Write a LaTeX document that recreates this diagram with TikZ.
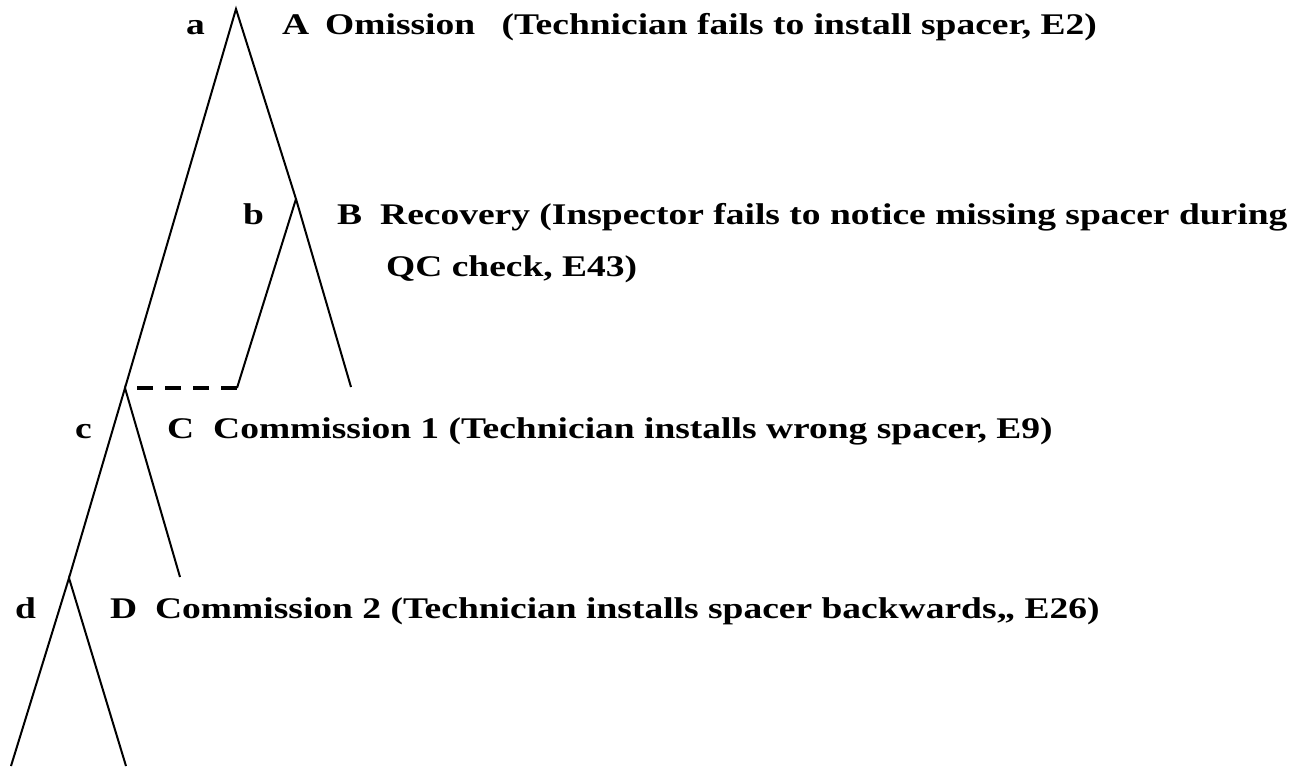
\documentclass[tikz,border=0pt]{standalone}
\usepackage{fontspec}
\setmainfont{Liberation Serif}[FakeStretch=1.25]
\begin{document}
\begin{tikzpicture}[x=1pt,y=-1pt,
  branch/.style={line width=2pt},
  link/.style={line width=4pt,dash pattern=on 16pt off 12pt},
  lbl/.style={inner sep=0pt,anchor=base west,font=\fontsize{30}{52}\selectfont\bfseries,align=left}]
\useasboundingbox (0,0) rectangle (1298,766);
% branch points
\coordinate (a) at (236,9);
\coordinate (b) at (296,199);
\coordinate (c) at (125,388);
\coordinate (d) at (69,578);
% loose ends
\coordinate (aEnd) at (351,387);
\coordinate (bEnd) at (237,388);
\coordinate (cEnd) at (180,577);
\coordinate (dLeft) at (11,766);
\coordinate (dRight) at (126,766);
\coordinate (lnkStart) at (137,388);
% tree
\draw[branch] (c) -- (a) -- (b) -- (aEnd);
\draw[branch] (b) -- (bEnd);
\draw[branch] (d) -- (c) -- (cEnd);
\draw[branch] (dLeft) -- (d) -- (dRight);
\draw[link] (lnkStart) -- (bEnd);
% labels
\node[lbl] (la) at (186,34) {a};
\node[lbl] (tA) at (282,34) {\makebox[43pt][l]{A}Omission\hspace{17pt} (Technician fails to install spacer, E2)};
\node[lbl] (lb) at (243,224) {b};
\node[lbl] (tB) at (337,276) {\makebox[43pt][l]{B}Recovery (Inspector fails to notice missing spacer during\\\hspace*{49pt}QC check, E43)};
\node[lbl] (lc) at (75,438) {c};
\node[lbl] (tC) at (167,438) {\makebox[46pt][l]{C}Commission 1 (Technician installs wrong spacer, E9)};
\node[lbl] (ld) at (15,618) {d};
\node[lbl] (tD) at (110,618) {\makebox[45pt][l]{D}Commission 2 (Technician installs spacer backwards,, E26)};
\end{tikzpicture}
\end{document}
